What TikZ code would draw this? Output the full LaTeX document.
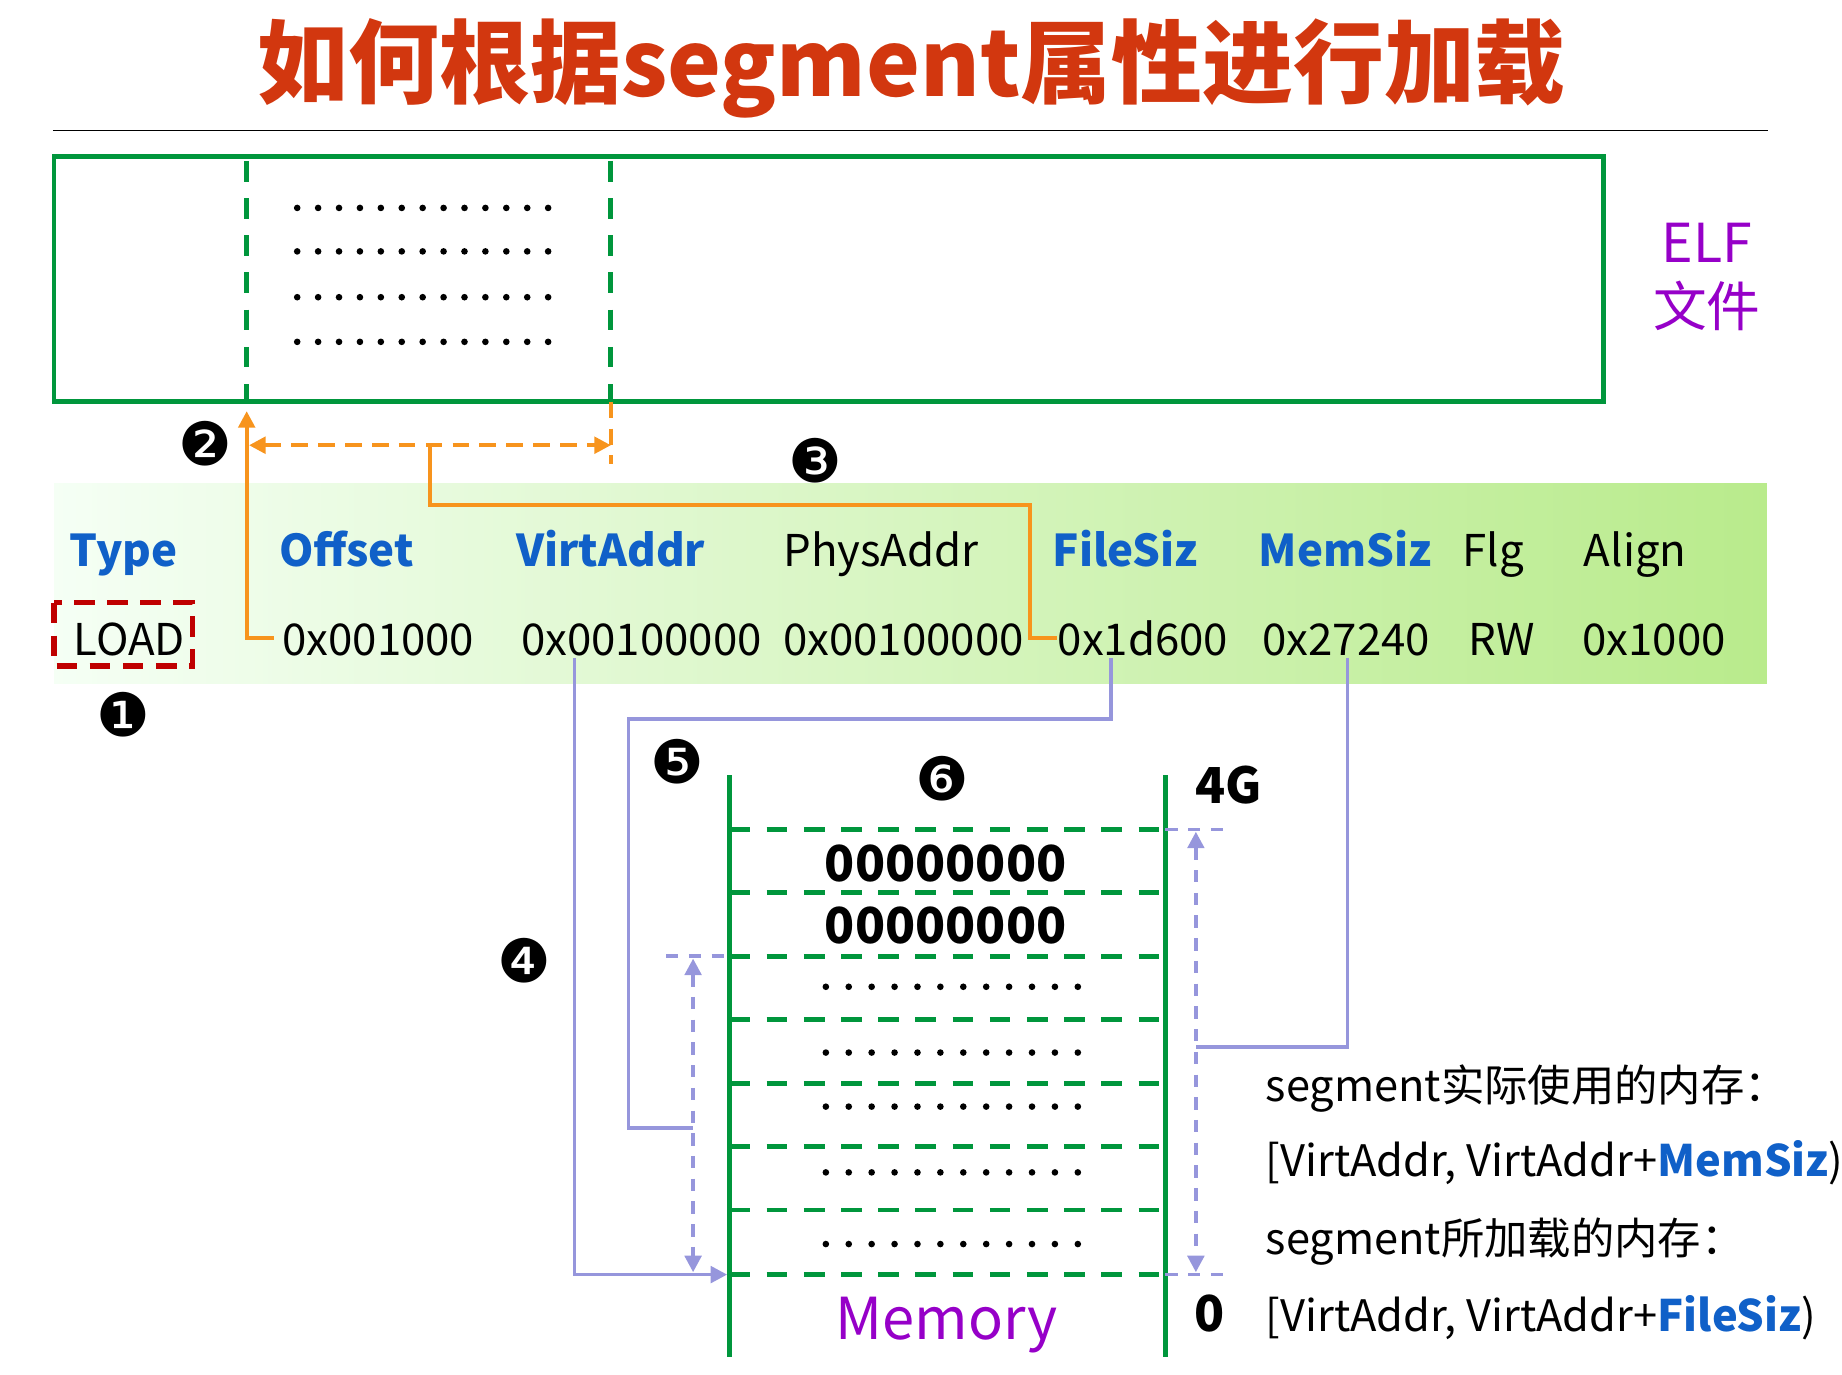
\documentclass[tikz,border=0pt]{standalone}
\usepackage{fontspec}
\setmainfont{Noto Sans CJK SC}
\newfontfamily\djvfont{DejaVu Sans}
\usetikzlibrary{arrows.meta}
\definecolor{grn}{RGB}{0,150,60}
\definecolor{org}{RGB}{247,148,29}
\definecolor{lav}{RGB}{150,150,220}
\definecolor{blu}{RGB}{16,96,200}
\definecolor{pur}{RGB}{150,0,200}
\definecolor{ttl}{RGB}{210,55,15}
\begin{document}
\begin{tikzpicture}[x=0.01cm,y=-0.01cm,
 hdr/.style={font=\fontsize{10.6}{12}\selectfont\bfseries,text=blu,anchor=base},
 val/.style={font=\fontsize{10.6}{12}\selectfont,anchor=base},
 num/.style={font=\djvfont\fontsize{14.5}{14}\selectfont},
 gline/.style={grn,line width=1.1pt},
 gdash/.style={grn,line width=1.2pt,dash pattern=on 5pt off 4pt},
 oline/.style={org,line width=0.9pt},
 lline/.style={lav,line width=0.9pt},
 ldash/.style={lav,line width=0.9pt,dash pattern=on 3pt off 2.5pt},
 rtxt/.style={font=\fontsize{10.5}{12}\selectfont,anchor=west}]
\useasboundingbox (0,0) rectangle (1568,1170);
\node[font=\fontsize{22}{24}\selectfont\bfseries,text=ttl] (title) at (776,58) {如何根据segment属性进行加载};
\draw[line width=0.4pt] (45,111) -- (1505,111);
% ELF box
\draw[gline] (46,133) rectangle (1365,342);
\draw[gdash] (210,137) -- (210,342);
\draw[gdash] (520,137) -- (520,342);
\foreach \y in {177,214,253,291}{\foreach \i in {0,...,12}{\fill (253+\i*17.8,\y) circle (0.8pt);}}
\node[font=\fontsize{13}{16}\selectfont,text=pur] (elf) at (1453,207) {ELF};
\node[font=\fontsize{13}{16}\selectfont,text=pur] (elf2) at (1453,260) {文件};
% band
\shade[left color=green!4,right color={rgb,255:red,185;green,235;blue,140}] (46,412) rectangle (1504,582);
\node[hdr] (h1) at (105,482) {Type};
\node[hdr] (h2) at (295,482) {Offset};
\node[hdr] (h3) at (520,482) {VirtAddr};
\node[val] (h4) at (750,482) {PhysAddr};
\node[hdr] (h5) at (958,482) {FileSiz};
\node[hdr] (h6) at (1145,482) {MemSiz};
\node[val] (h7) at (1271,482) {Flg};
\node[val] (h8) at (1392,482) {Align};
\node[val] (v1) at (110,558) {LOAD};
\node[val] (v2) at (322,558) {0x001000};
\node[val] (v3) at (546,558) {0x00100000};
\node[val] (v4) at (769,558) {0x00100000};
\node[val] (v5) at (973,558) {0x1d600};
\node[val] (v6) at (1146,558) {0x27240};
\node[val] (v7) at (1278,558) {RW};
\node[val] (v8) at (1408,558) {0x1000};
\draw[red!75!black,line width=1.3pt,dash pattern=on 5pt off 3pt] (46,513) rectangle (164,567);
% numbers
\node[num] (n1) at (105,608) {❶};
\node[num] (n2) at (175,378) {❷};
\node[num] (n3) at (694,392) {❸};
\node[num] (n4) at (446,818) {❹};
\node[num] (n5) at (577,648) {❺};
\node[num] (n6) at (802,663) {❻};
% orange
\draw[oline,-{Triangle[length=4pt,width=4pt]}] (233,543) -- (210,543) -- (210,350);
\draw[org,line width=0.9pt,dash pattern=on 4pt off 2.5pt,{Triangle[length=4pt,width=4pt]}-{Triangle[length=4pt,width=4pt]}] (212,379) -- (520,379);
\draw[org,line width=0.9pt,dash pattern=on 4pt off 2.5pt] (520,342) -- (520,395);
\draw[oline] (366,379) -- (366,430) -- (877,430) -- (877,543) -- (900,543);
% memory
\draw[gline] (621,660) -- (621,1155);
\draw[gline] (992,660) -- (992,1155);
\foreach \y in {706,760,814,868,922,976,1030,1085}{\draw[gdash] (621,\y) -- (992,\y);}
\node[font=\fontsize{12}{12}\selectfont\bfseries] (z1) at (805,735) {00000000};
\node[font=\fontsize{12}{12}\selectfont\bfseries] (z2) at (805,788) {00000000};
\foreach \y in {840,896,942,998,1059}{\foreach \i in {0,...,11}{\fill (703+\i*19.5,\y) circle (0.8pt);}}
\node[font=\fontsize{14}{14}\selectfont,text=pur] (mem) at (806,1128) {Memory};
\node[font=\fontsize{12}{12}\selectfont\bfseries] (g4) at (1046,668) {4G};
\node[font=\fontsize{12}{12}\selectfont\bfseries] (g0) at (1030,1118) {0};
% lavender
\draw[lline,-{Triangle[length=4pt,width=4pt]}] (489,560) -- (489,1085) -- (619,1085);
\draw[lline] (946,560) -- (946,612) -- (535,612) -- (535,960) -- (590,960);
\draw[ldash] (567,814) -- (621,814);
\draw[ldash,{Triangle[length=4pt,width=4pt]}-{Triangle[length=4pt,width=4pt]}] (590,816) -- (590,1083);
\draw[lline] (1147,560) -- (1147,891) -- (1018,891);
\draw[ldash] (992,706) -- (1047,706);
\draw[ldash] (992,1085) -- (1047,1085);
\draw[ldash,{Triangle[length=4pt,width=4pt]}-{Triangle[length=4pt,width=4pt]}] (1018,708) -- (1018,1083);
% right texts
\node[rtxt] (t1) at (1065,927) {segment实际使用的内存：};
\node[rtxt] (t2) at (1065,990) {[VirtAddr, VirtAddr+\textcolor{blu}{\bfseries MemSiz})};
\node[rtxt] (t3) at (1065,1057) {segment所加载的内存：};
\node[rtxt] (t4) at (1065,1122) {[VirtAddr, VirtAddr+\textcolor{blu}{\bfseries FileSiz})};
\end{tikzpicture}
\end{document}
